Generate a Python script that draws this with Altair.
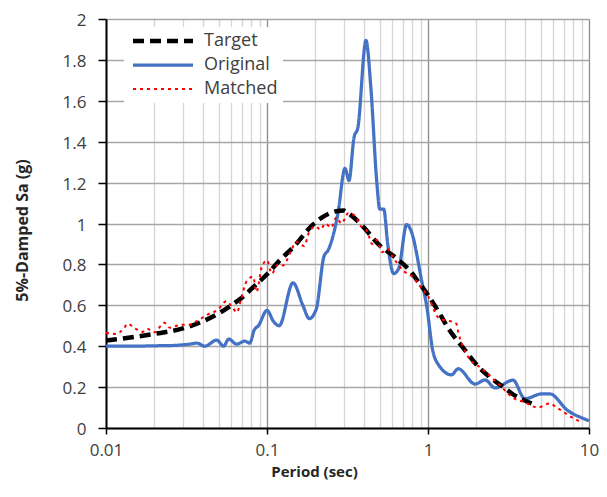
import altair as alt
import pandas as pd

# ---- data ----
series_names = ["Target", "Original", "Matched"]

target_T = [0.01, 0.015, 0.02, 0.03, 0.04, 0.05, 0.06, 0.07, 0.08, 0.1, 0.12, 0.15,
            0.19, 0.22, 0.27, 0.3, 0.32, 0.395, 0.49, 0.66, 0.8, 0.86, 1.0, 1.16,
            1.33, 1.7, 2.0, 2.5, 3.0, 3.3, 4.4]
target_Sa = [0.428, 0.445, 0.46, 0.487, 0.522, 0.56, 0.60, 0.638, 0.68, 0.752, 0.82, 0.895,
             0.99, 1.03, 1.06, 1.063, 1.05, 0.985, 0.90, 0.82, 0.755, 0.72, 0.65, 0.57,
             0.49, 0.38, 0.31, 0.24, 0.195, 0.17, 0.12]

orig_T = [0.01, 0.015, 0.02, 0.025, 0.0328, 0.0367, 0.0411, 0.0487, 0.0538, 0.0578,
          0.0648, 0.0727, 0.0781, 0.0834, 0.0884, 0.1, 0.11, 0.119, 0.145, 0.167,
          0.183, 0.202, 0.226, 0.24, 0.276, 0.305, 0.323, 0.347, 0.367, 0.412,
          0.442, 0.481, 0.502, 0.531, 0.562, 0.612, 0.658, 0.737, 0.78, 0.924,
          0.98, 1.07, 1.16, 1.4, 1.54, 1.96, 2.26, 2.61, 3.37, 4.0, 5.09, 5.7,
          7.36, 9.8, 10.0]
orig_Sa = [0.40, 0.40, 0.402, 0.403, 0.41, 0.415, 0.40, 0.43, 0.40, 0.435,
           0.41, 0.425, 0.415, 0.48, 0.50, 0.575, 0.52, 0.50, 0.71, 0.60,
           0.535, 0.58, 0.84, 0.87, 1.05, 1.27, 1.21, 1.42, 1.47, 1.895,
           1.66, 1.20, 1.07, 1.07, 0.90, 0.755, 0.78, 0.995, 0.97, 0.70,
           0.60, 0.38, 0.31, 0.26, 0.29, 0.215, 0.235, 0.196, 0.234, 0.143, 0.167, 0.167,
           0.086, 0.038, 0.035]

match_T = [0.01, 0.0115, 0.013, 0.0136, 0.015, 0.0168, 0.018, 0.02, 0.023, 0.025,
           0.029, 0.033, 0.037, 0.044, 0.049, 0.056, 0.061, 0.065, 0.069, 0.075,
           0.082, 0.086, 0.093, 0.1, 0.107, 0.117, 0.126, 0.14, 0.152, 0.17,
           0.183, 0.2, 0.215, 0.23, 0.25, 0.27, 0.29, 0.32, 0.35, 0.38,
           0.42, 0.45, 0.48, 0.52, 0.56, 0.6, 0.7, 0.8, 0.9, 1.0,
           1.16, 1.5, 1.54, 1.77, 2.16, 2.71, 3.37, 4.0, 4.8, 5.7,
           6.3, 7.8, 8.9]
match_Sa = [0.465, 0.46, 0.49, 0.51, 0.49, 0.47, 0.485, 0.468, 0.515, 0.49,
            0.505, 0.505, 0.525, 0.56, 0.575, 0.62, 0.59, 0.565, 0.63, 0.72,
            0.74, 0.665, 0.79, 0.82, 0.755, 0.80, 0.795, 0.86, 0.91, 0.89,
            0.96, 0.985, 0.97, 1.00, 0.98, 1.03, 1.00, 1.05, 1.04, 0.99,
            0.96, 0.90, 0.92, 0.86, 0.875, 0.84, 0.77, 0.74, 0.69, 0.645,
            0.54, 0.51, 0.47, 0.35, 0.29, 0.22, 0.148, 0.125, 0.10, 0.12,
            0.10, 0.053, 0.029]

x_grid_values = [0.01, 0.02, 0.03, 0.04, 0.05, 0.06, 0.07, 0.08, 0.09,
                 0.1, 0.2, 0.3, 0.4, 0.5, 0.6, 0.7, 0.8, 0.9,
                 1, 2, 3, 4, 5, 6, 7, 8, 9, 10]
y_values = [0, 0.2, 0.4, 0.6, 0.8, 1.0, 1.2, 1.4, 1.6, 1.8, 2.0]

rows = []
for name, ts, ss in [("Target", target_T, target_Sa),
                     ("Original", orig_T, orig_Sa),
                     ("Matched", match_T, match_Sa)]:
    for t, v in zip(ts, ss):
        rows.append({"series": name, "T": t, "Sa": v})
df = pd.DataFrame(rows)

FONT = "Open Sans"
is_decade = "indexof([0.01, 0.1, 1, 10], datum.value) >= 0"

color_scale = alt.Scale(domain=series_names, range=["#000000", "#4472C4", "#FF0000"])
dash_scale = alt.Scale(domain=series_names, range=[[11, 6], [1, 0], [3, 4]])
width_scale = alt.Scale(domain=series_names, range=[4.5, 2, 2.8])

legend = alt.Legend(
    title=None, orient="none", legendX=18, legendY=8,
    fillColor="white", padding=5,
    symbolType="M-1,0L11,0", symbolSize=100,
    labelOffset=57, labelFont=FONT, labelFontSize=18, labelColor="#404040",
    rowPadding=6,
)

x_enc = alt.X(
    "T:Q",
    scale=alt.Scale(type="log", domain=[0.01, 10], nice=False),
    axis=alt.Axis(
        title="Period (sec)", values=x_grid_values,
        grid=True,
        gridColor={"condition": {"test": is_decade, "value": "#8c8c8c"}, "value": "#d4d4d4"},
        gridWidth=1.3,
        tickOpacity={"condition": {"test": is_decade, "value": 1}, "value": 0},
        tickSize=6, tickColor="black", tickWidth=1.5,
        labelExpr=f"{is_decade} ? format(datum.value, '~g') : ''",
        labelOverlap=False, labelFlush=False, labelPadding=8,
        labelFont=FONT, labelFontSize=17, labelColor="#404040",
        domainColor="black", domainWidth=2,
        titleFont=FONT, titleFontSize=15, titleFontWeight="bold", titleColor="#262626",
        titleX=208, titleY=43, titleAlign="center", titleBaseline="middle",
    ),
)
y_enc = alt.Y(
    "Sa:Q",
    scale=alt.Scale(domain=[0, 2], nice=False),
    axis=alt.Axis(
        title="5%-Damped Sa (g)", values=y_values, format="~g",
        grid=True, gridColor="#a6a6a6", gridWidth=1.3,
        tickSize=8, tickColor="black", tickWidth=1.5,
        labelPadding=12, labelOffset=1.5, labelFont=FONT, labelFontSize=17, labelColor="#404040",
        domainColor="black", domainWidth=2,
        titleFont=FONT, titleFontSize=16, titleFontWeight="bold", titleColor="#262626",
        titleX=-84, titleY=211, titleAngle=270, titleAlign="center", titleBaseline="middle",
    ),
)

base = alt.Chart(df).encode(
    x=x_enc,
    y=y_enc,
    color=alt.Color("series:N", scale=color_scale, legend=legend),
    strokeDash=alt.StrokeDash("series:N", scale=dash_scale, legend=legend),
    strokeWidth=alt.StrokeWidth("series:N", scale=width_scale, legend=legend),
)

layers = [
    base.transform_filter(alt.datum.series == s).mark_line(interpolate="monotone")
    for s in ["Original", "Target", "Matched"]
]

chart = alt.layer(*layers).properties(
    width=483, height=409,
    autosize=alt.AutoSizeParams(type="none"),
    padding={"left": 98, "top": 11, "right": 10, "bottom": 54},
).configure_view(stroke="black", strokeWidth=1.5).configure(background="white")

chart.save("out.html", embed_options={"renderer": "svg", "actions": False})
